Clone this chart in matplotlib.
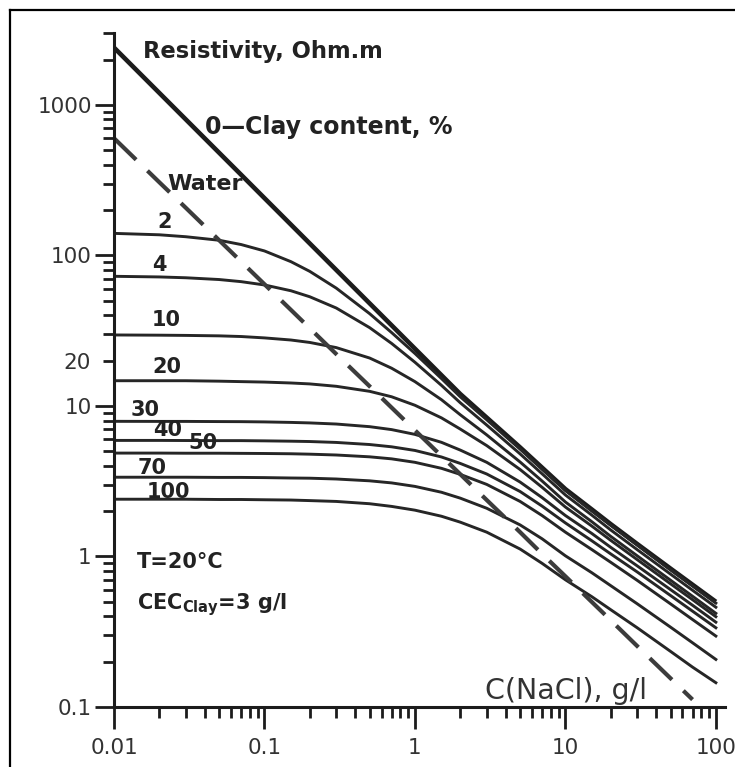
import matplotlib
matplotlib.use("Agg")
import matplotlib.pyplot as plt
from matplotlib.lines import Line2D
from matplotlib.ticker import FixedLocator, FuncFormatter, LogLocator, NullFormatter

# NaCl concentration, g/l
conc = [0.01, 0.02, 0.03, 0.05, 0.07, 0.1, 0.15, 0.2, 0.3, 0.5, 0.7, 1,
        1.5, 2, 3, 5, 7, 10, 15, 20, 30, 50, 70, 100]

# resistivity (Ohm.m) for each clay content, %
clay_0 = [2400, 1200, 800, 480, 343, 240, 160, 120, 80, 48, 34.3, 24,
          16, 12, 8.36, 5.3, 3.89, 2.8, 2.05, 1.64, 1.21, 0.83, 0.649, 0.5]
clay_2 = [140, 137, 133, 126, 118, 107, 90.8, 78.3, 60.6, 41, 30.7, 22.3,
          15.2, 11.5, 8.09, 5.16, 3.79, 2.74, 2.0, 1.61, 1.19, 0.813, 0.636, 0.49]
clay_4 = [72.6, 71.9, 71.0, 69.1, 66.9, 63.6, 58.2, 53.1, 44.7, 33.1, 26.0, 19.5,
          13.7, 10.5, 7.46, 4.8, 3.54, 2.56, 1.88, 1.5, 1.11, 0.763, 0.596, 0.46]
clay_10 = [29.6, 29.5, 29.4, 29.2, 28.9, 28.3, 27.4, 26.4, 24.4, 20.8, 17.8, 14.5,
           11.0, 8.74, 6.42, 4.24, 3.17, 2.3, 1.7, 1.36, 1.01, 0.695, 0.544, 0.419]
clay_20 = [14.7, 14.7, 14.7, 14.6, 14.5, 14.4, 14.2, 14.0, 13.5, 12.5, 11.5, 10.1,
           8.33, 7.02, 5.45, 3.78, 2.88, 2.13, 1.59, 1.28, 0.953, 0.658, 0.516, 0.398]
clay_30 = [7.9, 7.89, 7.89, 7.87, 7.86, 7.83, 7.77, 7.71, 7.58, 7.28, 6.96, 6.47,
           5.73, 5.09, 4.22, 3.12, 2.46, 1.87, 1.42, 1.15, 0.866, 0.602, 0.474, 0.366]
clay_40 = [5.9, 5.9, 5.89, 5.88, 5.88, 5.86, 5.83, 5.8, 5.72, 5.54, 5.35, 5.06,
           4.58, 4.15, 3.53, 2.7, 2.16, 1.67, 1.27, 1.04, 0.789, 0.55, 0.433, 0.336]
clay_50 = [4.86, 4.86, 4.85, 4.85, 4.84, 4.83, 4.81, 4.78, 4.72, 4.59, 4.45, 4.22,
           3.85, 3.51, 3.01, 2.32, 1.87, 1.45, 1.11, 0.915, 0.694, 0.484, 0.381, 0.296]
clay_70 = [3.36, 3.36, 3.36, 3.35, 3.35, 3.34, 3.32, 3.31, 3.27, 3.18, 3.08, 2.92,
           2.67, 2.44, 2.09, 1.62, 1.31, 1.01, 0.779, 0.64, 0.485, 0.339, 0.267, 0.207]
clay_100 = [2.4, 2.4, 2.4, 2.39, 2.39, 2.38, 2.37, 2.35, 2.32, 2.24, 2.15, 2.03,
            1.85, 1.69, 1.45, 1.12, 0.9, 0.7, 0.54, 0.443, 0.336, 0.234, 0.184, 0.145]

# water curve (dashed) stops before 100 g/l
conc_water = [0.01, 0.02, 0.03, 0.05, 0.07, 0.1, 0.15, 0.2, 0.3, 0.5, 0.7, 1,
              1.5, 2, 3, 5, 7, 10, 15, 20, 30, 50, 70]
water = [600, 306, 207, 126, 90.9, 64.3, 43.4, 32.8, 22.1, 13.5, 9.74, 6.89,
         4.65, 3.52, 2.37, 1.45, 1.04, 0.738, 0.498, 0.377, 0.254, 0.155, 0.112]

clay_curves = [clay_2, clay_4, clay_10, clay_20, clay_30,
               clay_40, clay_50, clay_70, clay_100]

# label text and where it sits (data coords)
curve_labels = ["2", "4", "10", "20", "30", "40", "50", "70", "100"]
label_x = [0.0193, 0.0179, 0.0179, 0.0179, 0.0128, 0.0181, 0.031, 0.0144, 0.0166]
label_y = [166, 86, 37, 18, 9.33, 6.88, 5.63, 3.84, 2.7]

ink = "#262626"

fig = plt.figure(figsize=(7.35, 7.67), dpi=100)
ax = fig.add_axes([114 / 735, 60 / 767, 611 / 735, 674 / 767])

ax.plot(conc, clay_0, color="#1c1c1c", lw=3.3, solid_capstyle="butt")
for vals in clay_curves:
    ax.plot(conc, vals, color=ink, lw=2.1)
ax.plot(conc_water, water, color="#3c3c3c", lw=3.0,
        dashes=(7.4, 3.8), dash_capstyle="butt")

ax.set_xscale("log")
ax.set_yscale("log")
ax.set_xlim(0.01, 115)
ax.set_ylim(0.1, 3000)

for side in ["top", "right"]:
    ax.spines[side].set_visible(False)
for side in ["left", "bottom"]:
    ax.spines[side].set_linewidth(2.2)
    ax.spines[side].set_color("#1c1c1c")

ax.xaxis.set_major_locator(FixedLocator([0.01, 0.1, 1, 10, 100]))
ax.xaxis.set_major_formatter(FuncFormatter(lambda v, p: "%g" % v))
ax.xaxis.set_minor_locator(LogLocator(base=10, subs=range(2, 10), numticks=20))
ax.xaxis.set_minor_formatter(NullFormatter())

ax.yaxis.set_major_locator(FixedLocator([0.1, 1, 10, 100, 1000]))
ax.yaxis.set_major_formatter(FuncFormatter(lambda v, p: "%g" % v))
ax.yaxis.set_minor_locator(LogLocator(base=10, subs=range(2, 10), numticks=20))
ax.yaxis.set_minor_formatter(FuncFormatter(lambda v, p: "20" if abs(v - 20) < 1e-6 else ""))

ax.tick_params(axis="both", which="both", direction="out", width=2.0,
               color="#1c1c1c", labelcolor="#333333", labelsize=15.5)
ax.tick_params(axis="x", which="major", length=16, pad=6)
ax.tick_params(axis="x", which="minor", length=8)
ax.tick_params(axis="y", which="major", length=14, pad=2)
ax.tick_params(axis="y", which="minor", length=8, pad=9)

bold = dict(fontweight="bold", color="#222222", ha="left", va="center")
ax.text(0.0156, 2266, "Resistivity, Ohm.m", fontsize=16.3, **bold)
ax.text(0.0403, 709, "0\u2014Clay content, %", fontsize=17, **bold)
ax.text(0.0225, 296, "Water", fontsize=16, **bold)
for lab, lx, ly in zip(curve_labels, label_x, label_y):
    ax.text(lx, ly, lab, fontsize=15, **bold)
ax.text(0.0142, 0.912, "T=20\u00b0C", fontsize=15, **bold)
ax.text(0.0142, 0.48, r"CEC$_{\mathbf{Clay}}$=3 g/l", fontsize=15, **bold)
ax.text(2.92, 0.127, "C(NaCl), g/l", fontsize=20.5, color="#333333",
        ha="left", va="center")

# frame of the original picture (only left and top edges visible)
fig.add_artist(Line2D([10 / 735, 10 / 735], [0, 1 - 10 / 767],
                      transform=fig.transFigure, color="black", lw=1.6))
fig.add_artist(Line2D([10 / 735, 1], [1 - 10 / 767, 1 - 10 / 767],
                      transform=fig.transFigure, color="black", lw=1.6))

fig.savefig("out.png", dpi=100)
